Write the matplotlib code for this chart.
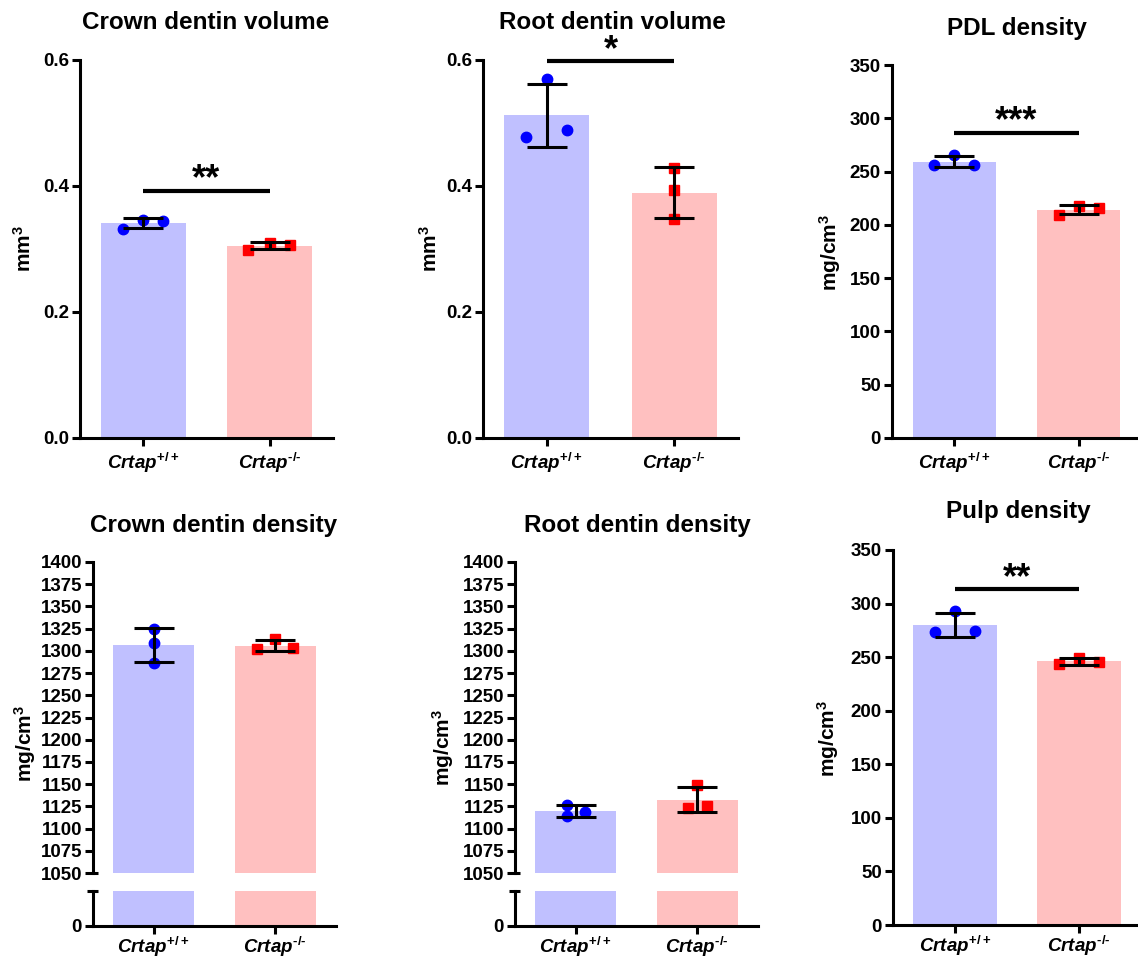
import numpy as np
import matplotlib
matplotlib.use("Agg")
import matplotlib.pyplot as plt

plt.rcParams['font.family'] = ['Liberation Sans', 'DejaVu Sans']
plt.rcParams['font.weight'] = 'bold'
plt.rcParams['mathtext.fontset'] = 'custom'
plt.rcParams['mathtext.rm'] = 'Liberation Sans:bold'
plt.rcParams['mathtext.it'] = 'Liberation Sans:italic:bold'
plt.rcParams['mathtext.bf'] = 'Liberation Sans:bold'

# data
groups = ['$\\mathit{Crtap}^{+/+}$', '$\\mathit{Crtap}^{\u2010/\u2010}$']
titles = ["Crown dentin volume", "Root dentin volume", "PDL density",
          "Crown dentin density", "Root dentin density", "Pulp density"]
units = [r'mm$^3$', r'mm$^3$', r'mg/cm$^3$', r'mg/cm$^3$', r'mg/cm$^3$', r'mg/cm$^3$']

crown_vol_wt = [0.332, 0.346, 0.345]
crown_vol_ko = [0.299, 0.310, 0.306]
root_vol_wt = [0.477, 0.570, 0.489]
root_vol_ko = [0.428, 0.393, 0.347]
pdl_wt = [256.3, 265.6, 256.3]
pdl_ko = [209.4, 218.1, 215.6]
crown_den_wt = [1324.4, 1308.6, 1286.8]
crown_den_ko = [1301.9, 1313.1, 1303.0]
root_den_wt = [1127.0, 1114.0, 1119.0]
root_den_ko = [1148.7, 1123.2, 1125.8]
pulp_wt = [273.1, 293.3, 274.6]
pulp_ko = [243.6, 249.5, 245.1]

stars = ["**", "*", "***", None, None, "**"]
sig_y = [0.392, 0.598, 286.6, None, None, 313.3]

# layout
W, H = 1138, 957
BLUE_BAR, RED_BAR = "#c0c0ff", "#ffc0c0"
BLUE, RED = "#0000ff", "#ff0000"
LW = 2.2

def box(l, t, r, b):
    return [l / W, 1 - b / H, (r - l) / W, (b - t) / H]

spread = [
    ([-0.16, 0, 0.16], [-0.17, 0, 0.16]),
    ([-0.16, 0, 0.16], [0, 0, 0]),
    ([-0.16, 0, 0.16], [-0.16, 0, 0.16]),
    ([0, 0, 0], [-0.15, 0, 0.15]),
    ([-0.07, -0.07, 0.08], [0, -0.08, 0.08]),
    ([-0.16, 0, 0.16], [-0.16, 0, 0.16]),
]

fig = plt.figure(figsize=(W / 100, H / 100), dpi=100)


def style(ax, bottom=True, xpad=3):
    for s in ["top", "right"]:
        ax.spines[s].set_visible(False)
    ax.spines["left"].set_linewidth(LW)
    ax.spines["bottom"].set_linewidth(LW)
    ax.spines["bottom"].set_visible(bottom)
    ax.tick_params(axis="y", length=6, width=LW, pad=2, labelsize=13.5)
    ax.tick_params(axis="x", length=6, width=LW, pad=xpad, labelsize=13.5)
    ax.set_xlim(-0.5, 1.5)


def draw(ax, wt, ko, sp):
    for i, (vals, off, bc, pc, mk) in enumerate([(wt, sp[0], BLUE_BAR, BLUE, "o"),
                                               (ko, sp[1], RED_BAR, RED, "s")]):
        m = np.mean(vals)
        sd = np.std(vals, ddof=1)
        ax.bar(i, m, width=0.67, color=bc, zorder=1)
        ax.plot(i + np.array(off), vals, ls="none", marker=mk, color=pc,
                ms=7.5 if mk == "o" else 7, zorder=3, clip_on=False)
        ax.errorbar(i, m, yerr=sd, fmt="none", ecolor="black", elinewidth=LW,
                    capsize=14.5, capthick=LW, zorder=4)


def significance(ax, y, txt):
    ax.plot([0, 1], [y, y], color="black", lw=3, solid_capstyle="butt", clip_on=False)
    ax.annotate(txt, xy=(0.5, y), xytext=(0, 1), textcoords="offset points",
                ha="center", va="baseline", fontsize=26, fontweight="bold")


data = [(crown_vol_wt, crown_vol_ko), (root_vol_wt, root_vol_ko), (pdl_wt, pdl_ko),
        (crown_den_wt, crown_den_ko), (root_den_wt, root_den_ko), (pulp_wt, pulp_ko)]
simple = {0: ((80, 60, 333, 438), (0, 0.6), [0.0, 0.2, 0.4, 0.6]),
          1: ((483, 60, 738, 438), (0, 0.6), [0.0, 0.2, 0.4, 0.6]),
          2: ((892, 65, 1141, 438), (0, 350), np.arange(0, 351, 50)),
          5: ((893, 550, 1141, 925), (0, 350), np.arange(0, 351, 50))}

for k, (rect, lim, ticks) in simple.items():
    ax = fig.add_axes(box(*rect))
    style(ax, xpad=3 if k < 3 else 0.5)
    draw(ax, *data[k], spread[k])
    ax.set_ylim(*lim)
    ax.set_yticks(ticks)
    if lim[1] < 1:
        ax.set_yticklabels(["%.1f" % t for t in ticks])
    ax.set_xticks([0, 1])
    ax.set_xticklabels(groups)
    if stars[k]:
        significance(ax, sig_y[k], stars[k])

# broken axis panels
broken = {3: ((93, 562, 336, 873), (93, 891, 336, 926)),
          4: ((515, 562, 758, 873), (515, 891, 758, 926))}
for k, (up, low) in broken.items():
    ax1 = fig.add_axes(box(*up))
    ax2 = fig.add_axes(box(*low))
    style(ax1, bottom=False)
    style(ax2, xpad=0.5)
    draw(ax1, *data[k], spread[k])
    ax2.bar([0, 1], [np.mean(v) for v in data[k]], width=0.67,
            color=[BLUE_BAR, RED_BAR])
    ax1.set_ylim(1050, 1400)
    ax1.set_yticks(np.arange(1050, 1401, 25))
    ax1.set_xticks([])
    ax2.set_ylim(0, 100)
    ax2.set_yticks([0])
    ax2.set_xticks([0, 1])
    ax2.set_xticklabels(groups)
    # break marks
    ax1.plot([0, 0.02], [0, 0], color="black", lw=LW, transform=ax1.transAxes,
             clip_on=False, solid_capstyle="butt")
    ax2.plot([-0.025, 0.02], [1, 1], color="black", lw=LW, transform=ax2.transAxes,
             clip_on=False, solid_capstyle="butt")

# titles and y labels
title_pos = [(206, 29), (612, 29), (1017, 35), (214, 532), (637, 532), (1018, 518)]
ylab_pos = [(24, 249), (430, 249), (830, 252), (25, 743), (443, 747), (828, 738)]
for k in range(6):
    x, y = title_pos[k]
    fig.text(x / W, 1 - y / H, titles[k], ha="center", va="baseline",
             fontsize=17.5, fontweight="bold")
    x, y = ylab_pos[k]
    fig.text(x / W, 1 - y / H, units[k], ha="center", va="center", rotation=90,
             fontsize=15, fontweight="bold")

fig.savefig("out.png", dpi=100)
